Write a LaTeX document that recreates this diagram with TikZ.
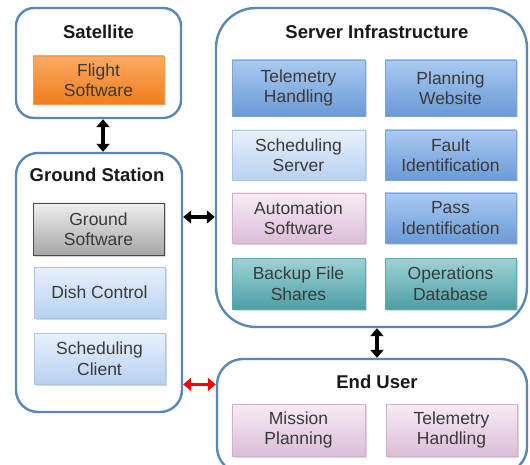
\documentclass[tikz,border=0pt]{standalone}
\usepackage{fontspec}
\setmainfont{Liberation Sans}
\usetikzlibrary{shadows,arrows.meta}
\definecolor{frame}{HTML}{5B87B7}
\definecolor{txt}{HTML}{3A3A3A}
\tikzset{
  container/.style={draw=frame, line width=2.4pt, fill=white, inner sep=0pt},
  title/.style={font=\fontsize{18.5}{20}\selectfont\bfseries, text=black!90, inner sep=0pt},
  box/.style={inner sep=0pt, align=center, text=txt, line width=0.8pt,
     font=\fontsize{17.5}{20.5}\selectfont,
     drop shadow={shadow xshift=1.5pt, shadow yshift=-1.5pt, opacity=0.3}},
  orangebox/.style={box, top color=orange1, bottom color=orange2, draw=orangeb},
  graybox/.style={box, top color=gray1, bottom color=gray2, draw=grayb},
  bluebox/.style={box, top color=blue1, bottom color=blue2, draw=blueb},
  lightbox/.style={box, top color=light1, bottom color=light2, draw=lightb},
  pinkbox/.style={box, top color=pink1, bottom color=pink2, draw=pinkb},
  tealbox/.style={box, top color=teal1, bottom color=teal2, draw=tealb},
  link/.style={line width=3.6pt, {Triangle[width=13pt,length=8pt]}-{Triangle[width=13pt,length=8pt]}},
}
\definecolor{orange1}{HTML}{FBAA62}\definecolor{orange2}{HTML}{F07E1E}\definecolor{orangeb}{HTML}{EE9A50}
\definecolor{gray1}{HTML}{EFEFEF}\definecolor{gray2}{HTML}{A6A6A6}\definecolor{grayb}{HTML}{4A4A4A}
\definecolor{blue1}{HTML}{AACAF1}\definecolor{blue2}{HTML}{6A9AD6}\definecolor{blueb}{HTML}{7BA4DA}
\definecolor{light1}{HTML}{E8F1FC}\definecolor{light2}{HTML}{B8D1F2}\definecolor{lightb}{HTML}{A8C5EB}
\definecolor{pink1}{HTML}{F7ECF5}\definecolor{pink2}{HTML}{DCBDD7}\definecolor{pinkb}{HTML}{D2AFCB}
\definecolor{teal1}{HTML}{9ED3D6}\definecolor{teal2}{HTML}{4D9FA5}\definecolor{tealb}{HTML}{5AAAB0}
\begin{document}
\begin{tikzpicture}[x=1pt,y=-1pt]
\clip (0,0) rectangle (530,465);
\fill[white] (0,0) rectangle (530,465);
% containers
\node[container, rounded corners=18pt, minimum width=165, minimum height=110] (sat) at (98.5,63) {};
\node[container, rounded corners=22pt, minimum width=166, minimum height=259] (gs) at (99,282.5) {};
\node[container, rounded corners=40pt, minimum width=311, minimum height=319] (srv) at (371.5,167.5) {};
\node[container, rounded corners=26pt, minimum width=310, minimum height=114] (eu) at (372,416) {};
% titles
\node[title] (satt) at (98.5,32) {Satellite};
\node[title] (gst) at (97,175) {Ground Station};
\node[title] (srvt) at (377,32) {Server Infrastructure};
\node[title] (eut) at (377,382) {End User};
% satellite
\node[orangebox, minimum width=131, minimum height=48] (fs) at (98.5,80) {Flight\\Software};
% ground station
\node[graybox, minimum width=131, minimum height=52] (gsw) at (98.5,229) {Ground\\Software};
\node[lightbox, minimum width=131, minimum height=51] (dish) at (99.5,292.5) {Dish Control};
\node[lightbox, minimum width=131, minimum height=51] (sc) at (99.5,358.5) {Scheduling\\Client};
% server
\node[bluebox, minimum width=133, minimum height=56] (th) at (298.5,88) {Telemetry\\Handling};
\node[bluebox, minimum width=131, minimum height=56] (pw) at (450.5,88) {Planning\\Website};
\node[lightbox, minimum width=133, minimum height=50] (ss) at (298.5,155) {Scheduling\\Server};
\node[bluebox, minimum width=131, minimum height=50] (fi) at (450.5,155) {Fault\\Identification};
\node[pinkbox, minimum width=133, minimum height=50] (as) at (298.5,218) {Automation\\Software};
\node[bluebox, minimum width=131, minimum height=50] (pi) at (450.5,218) {Pass\\Identification};
\node[tealbox, minimum width=133, minimum height=51] (bf) at (298.5,283.5) {Backup File\\Shares};
\node[tealbox, minimum width=131, minimum height=51] (od) at (450.5,283.5) {Operations\\Database};
% end user
\node[pinkbox, minimum width=133, minimum height=52] (mp) at (298.5,430) {Mission\\Planning};
\node[pinkbox, minimum width=131, minimum height=52] (th2) at (451.5,430) {Telemetry\\Handling};
% connectors
\draw[link] ([xshift=4.5pt]sat.south) -- ([xshift=4.5pt]sat.south |- gs.north);
\draw[link] ([yshift=12pt]gs.east |- gsw.east) -- ([yshift=12pt]srv.west |- gsw.east);
\draw[link] ([xshift=5.5pt]srv.south) -- ([xshift=5.5pt]srv.south |- eu.north);
\draw[link, red] (gs.east |- sc.south) -- (eu.west |- sc.south);
\end{tikzpicture}
\end{document}
